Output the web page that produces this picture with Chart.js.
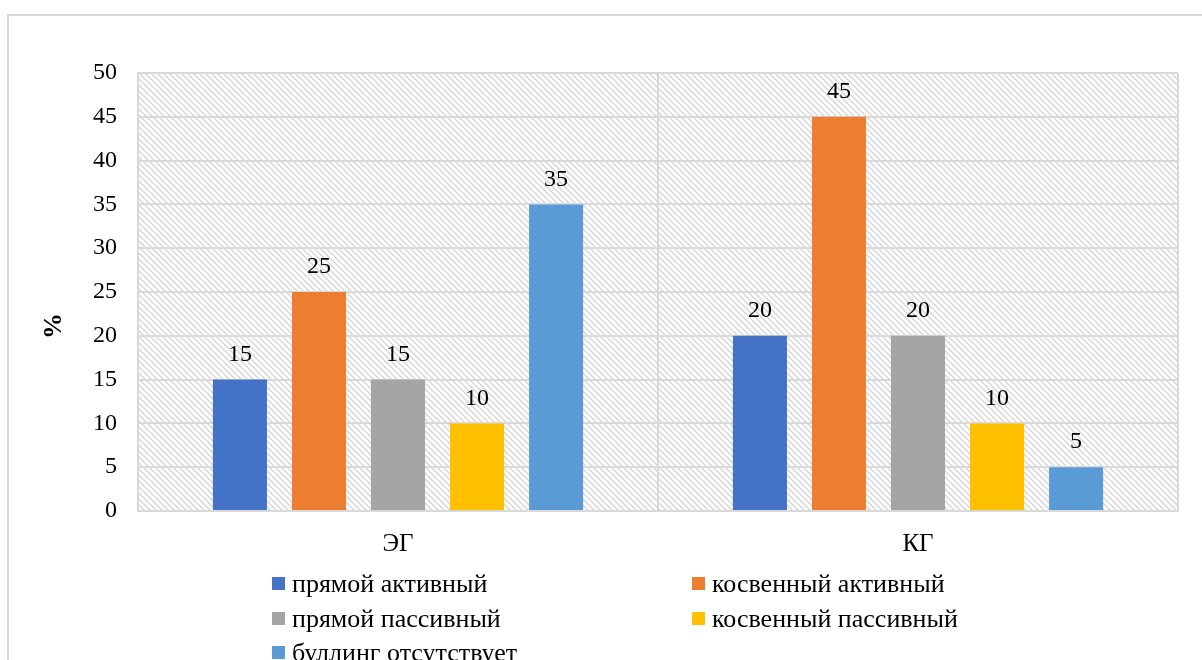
<!DOCTYPE html>
<html>
<head>
<meta charset="utf-8">
<script src="https://cdn.jsdelivr.net/npm/chart.js@4/dist/chart.umd.min.js"></script>
<style>
  html, body { margin: 0; padding: 0; background: #fff; overflow: hidden; }
  #wrap { position: relative; width: 1202px; height: 660px; }
  #frame { position: absolute; left: 7px; top: 14px; width: 1300px; height: 800px;
           border-top: 2px solid #d9d9d9; border-left: 2px solid #d9d9d9; box-sizing: border-box; }
  canvas { position: absolute; left: 0; top: 0; }
</style>
</head>
<body>
<div id="wrap">
  <div id="frame"></div>
  <canvas id="c" width="1202" height="660"></canvas>
</div>
<script>
// Groups and bullying types (values in %)
const groups = ['ЭГ', 'КГ'];
const seriesNames = ['прямой активный', 'косвенный активный', 'прямой пассивный', 'косвенный пассивный', 'буллинг отсутствует'];
const directActive = [15, 20];
const indirectActive = [25, 45];
const directPassive = [15, 20];
const indirectPassive = [10, 10];
const noBullying = [35, 5];
const yTicks = [0, 5, 10, 15, 20, 25, 30, 35, 40, 45, 50];

const colors = ['#4472C4', '#ED7D31', '#A5A5A5', '#FFC000', '#5B9BD5'];
const values = [directActive, indirectActive, directPassive, indirectPassive, noBullying];

const serif = '"Liberation Serif", "Times New Roman", serif';

// Diagonal hatch used for the plot background
function makeHatch() {
  const s = 6;
  const p = document.createElement('canvas');
  p.width = s; p.height = s;
  const g = p.getContext('2d');
  g.strokeStyle = '#d6d6d6';
  g.lineWidth = 1.4;
  g.beginPath();
  g.moveTo(-1, -1); g.lineTo(s + 1, s + 1);
  g.moveTo(-1, s - 1); g.lineTo(1, s + 1);
  g.moveTo(s - 1, -1); g.lineTo(s + 1, 1);
  g.stroke();
  return p;
}

const hatchBg = {
  id: 'hatchBg',
  beforeDraw(chart) {
    const { ctx, chartArea: a } = chart;
    ctx.save();
    ctx.fillStyle = ctx.createPattern(makeHatch(), 'repeat');
    ctx.fillRect(a.left, a.top, a.right - a.left, a.bottom - a.top);
    ctx.restore();
  }
};

// Value labels above each bar, plus the rotated "%" axis caption
const barLabels = {
  id: 'barLabels',
  afterDatasetsDraw(chart) {
    const ctx = chart.ctx;
    ctx.save();
    ctx.font = '24px ' + serif;
    ctx.fillStyle = '#000';
    ctx.textAlign = 'center';
    ctx.textBaseline = 'middle';
    chart.data.datasets.forEach((ds, i) => {
      chart.getDatasetMeta(i).data.forEach((bar, j) => {
        ctx.fillText(String(ds.data[j]), bar.x, bar.y - 25);
      });
    });
    ctx.translate(54, 326);
    ctx.rotate(-Math.PI / 2);
    ctx.font = 'bold 26px ' + serif;
    ctx.fillText('%', 0, 0);
    ctx.restore();
  }
};

// Two-column legend under the category axis
const gridLegend = {
  id: 'gridLegend',
  afterDraw(chart) {
    const ctx = chart.ctx;
    const colX = [272, 692];
    const rowY = [584, 619, 653];
    ctx.save();
    ctx.font = '26px ' + serif;
    ctx.textBaseline = 'middle';
    ctx.textAlign = 'left';
    chart.data.datasets.forEach((ds, i) => {
      const x = colX[i % 2];
      const y = rowY[Math.floor(i / 2)];
      ctx.fillStyle = ds.backgroundColor;
      ctx.fillRect(x, y - 7, 13, 13);
      ctx.fillStyle = '#000';
      ctx.fillText(ds.label, x + 20, y + 1);
    });
    ctx.restore();
  }
};

new Chart(document.getElementById('c'), {
  type: 'bar',
  data: {
    labels: groups,
    datasets: seriesNames.map((name, i) => ({
      label: name,
      data: values[i],
      backgroundColor: colors[i],
      borderWidth: 0,
      categoryPercentage: 0.76,
      barPercentage: 0.684
    }))
  },
  options: {
    responsive: false,
    animation: false,
    layout: { padding: { top: 73, left: 30, right: 24, bottom: 0 } },
    plugins: {
      legend: { display: false },
      tooltip: { enabled: false }
    },
    scales: {
      x: {
        offset: true,
        grid: { display: true, offset: true, color: '#d9d9d9', lineWidth: 2, drawTicks: false },
        border: { display: true, color: '#d9d9d9', width: 2 },
        ticks: { color: '#000', font: { family: serif, size: 25 }, padding: 18 },
        afterFit(s) { s.height = 149; }
      },
      y: {
        min: 0, max: 50,
        afterBuildTicks(s) { s.ticks = yTicks.map(v => ({ value: v })); },
        grid: { color: '#d9d9d9', lineWidth: 2, drawTicks: false },
        border: { display: true, color: '#d9d9d9', width: 2 },
        ticks: { color: '#000', font: { family: serif, size: 24 }, padding: 21 },
        afterFit(s) { s.width = 108; }
      }
    }
  },
  plugins: [hatchBg, barLabels, gridLegend]
});
</script>
</body>
</html>
